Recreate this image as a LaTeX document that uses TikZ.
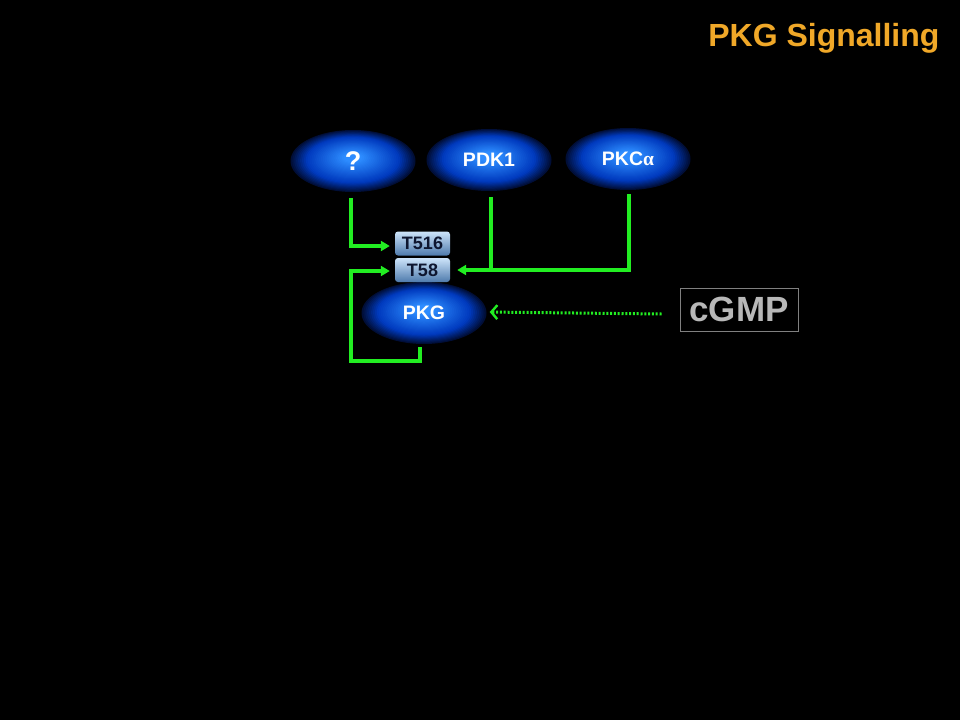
\documentclass[tikz,border=0pt]{standalone}
\usepackage{fontspec}
\setmainfont{Liberation Sans}
\newfontfamily\greekserif{Liberation Serif}
\usetikzlibrary{arrows.meta,shapes.geometric,backgrounds}
\definecolor{bc}{RGB}{45,140,255}
\definecolor{bm}{RGB}{0,58,190}
\definecolor{be}{RGB}{0,14,55}
\definecolor{lg}{RGB}{34,238,34}
\definecolor{ttl}{RGB}{240,168,40}
\definecolor{boxtop}{RGB}{205,228,250}
\definecolor{boxbot}{RGB}{78,122,172}
\definecolor{boxtxt}{RGB}{14,22,48}
\definecolor{cg}{RGB}{184,184,184}
\definecolor{cgb}{RGB}{128,128,128}
\tikzset{
  blobnode/.style={ellipse, minimum width=125pt, minimum height=62pt, inner sep=0pt,
    text=white, font=\fontsize{19.5}{21}\selectfont\bfseries},
  sitebox/.style={rectangle, rounded corners=3pt, top color=boxtop, bottom color=boxbot,
    minimum width=55pt, minimum height=24pt, inner sep=0pt, text=boxtxt,
    font=\fontsize{18}{20}\selectfont\bfseries},
  gline/.style={draw=lg, line width=3.4pt},
  gtip/.style={-{Triangle[length=9pt,width=10pt]}},
}
\newcommand{\blobfill}[1]{%
  \foreach \i in {0,...,32}{%
    \pgfmathsetmacro\rr{1-\i/33}%
    \pgfmathsetmacro\pp{\rr>0.75 ? 100*(1-\rr)/0.25 : 0}%
    \pgfmathsetmacro\qq{\rr>0.75 ? 0 : 100*(0.75-\rr)/0.6}%
    \pgfmathsetmacro\qq{min(\qq,100)}%
    \pgfmathsetmacro\dy{-(1-\rr)*4}%
    \ifdim\rr pt>0.75pt
      \fill[bm!\pp!be] ([yshift=-\dy pt]#1.center) ellipse [x radius={62.5*\rr}, y radius={31*\rr}];
    \else
      \fill[bc!\qq!bm] ([yshift=-\dy pt]#1.center) ellipse [x radius={62.5*\rr}, y radius={31*\rr}];
    \fi
  }%
}
\begin{document}
\begin{tikzpicture}[x=1pt,y=-1pt]
\useasboundingbox (0,0) rectangle (960,720);
\node[anchor=base east, text=ttl, font=\fontsize{32}{36}\selectfont\bfseries] (title) at (943,46) {PKG Signalling};
\node[blobnode, font=\fontsize{27}{29}\selectfont\bfseries] (q) at (353,161) {?};
\node[blobnode] (pdk) at (489,160) {PDK1};
\node[blobnode] (pkc) at (628,159) {PKC{\greekserif α}};
\node[blobnode] (pkg) at (424,313) {PKG};
\begin{scope}[on background layer]
\fill[black] (0,0) rectangle (960,720);
\blobfill{q}
\blobfill{pdk}
\blobfill{pkc}
\blobfill{pkg}
\end{scope}
\node[sitebox] (t516) at (422.5,243.5) {T516};
\node[sitebox] (t58) at (422.5,270) {T58};
\node[draw=cgb, line width=1pt, minimum width=118pt, minimum height=43pt, inner sep=0pt,
  text=cg, font=\fontsize{35}{38}\selectfont\bfseries] (cgmp) at (739,309.5) {cGMP};
\coordinate (j) at (491,270);
\coordinate (lb) at (351,361);
\path (cgmp.west |- pkg.east) ++(-18,1) coordinate (cs);
% ? -> T516
\draw[gline, gtip, shorten >=5pt] ([xshift=-2pt,yshift=-6pt]q.south) |- ([yshift=-2.5pt]t516.west);
% PDK1 -> T58
\draw[gline, gtip, shorten >=7pt] ([xshift=2pt,yshift=-6pt]pdk.south) |- (t58.east);
% PKCa joins
\draw[gline] ([xshift=1pt,yshift=-4pt]pkc.south) |- (j);
% PKG autophosphorylation loop
\draw[gline, gtip, shorten >=5pt] ([xshift=-4pt,yshift=-3pt]pkg.south) |- (lb) |- ([yshift=-1pt]t58.west);
% cGMP -> PKG (dotted)
\draw[draw=lg, line width=3pt, dash pattern=on 2pt off 1.8pt, -{Straight Barb[length=6pt,width=14pt,line width=2.4pt]}, shorten >=3pt] (cs) -- ([yshift=1pt]pkg.east);
\end{tikzpicture}
\end{document}
